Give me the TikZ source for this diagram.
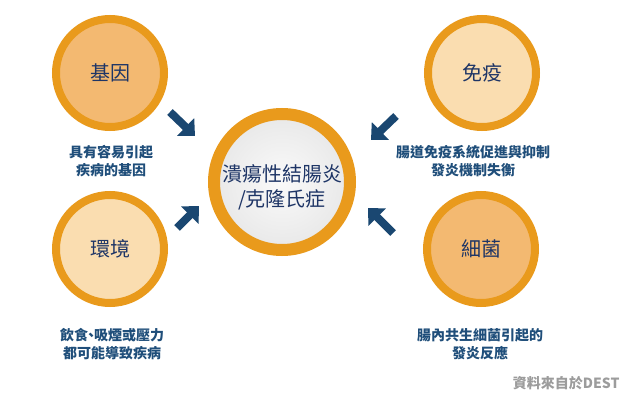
\documentclass[tikz,border=0pt]{standalone}
\usepackage{fontspec}
\setmainfont{Noto Sans CJK TC}
\usepackage{tikz}
\usetikzlibrary{arrows.meta}

\definecolor{ringorange}{HTML}{E99A1C}
\definecolor{peachdark}{HTML}{F3B971}
\definecolor{peachlight}{HTML}{FADDB0}
\definecolor{labelnavy}{HTML}{1E3566}
\definecolor{capblue}{HTML}{1F4E7A}
\definecolor{arrowblue}{HTML}{1A4771}
\definecolor{srcgray}{HTML}{9C9C9C}

\tikzset{
  factor/.style={circle, draw=ringorange, line width=8pt, minimum size=108pt, inner sep=0pt,
    text=labelnavy, font=\fontsize{20}{24}\selectfont},
  disease/.style={circle, draw=ringorange, line width=12pt, minimum size=136pt, inner sep=0pt,
    inner color=gray!4, outer color=gray!18},
  caption/.style={text=capblue, align=center, font=\fontsize{14}{18}\selectfont\bfseries},
  bigarrow/.style={draw=arrowblue, line width=8pt, -{Triangle[width=24pt,length=13pt]}}
}

\begin{document}
\begin{tikzpicture}[x=1pt,y=-1pt]
\useasboundingbox[fill=white] (0,0) rectangle (640,401);
% center
\node[disease] (ibd) at (282,182) {};
\node[text=labelnavy, align=center, font=\fontsize{20}{25}\selectfont] (ibdtxt) at (282,187) {潰瘍性結腸炎\\/克隆氏症};
% four factors
\node[factor, fill=peachdark] (gene) at (110,73) {基因};
\node[factor, fill=peachlight] (immune) at (482,73) {免疫};
\node[factor, fill=peachlight] (envir) at (110,249) {環境};
\node[factor, fill=peachdark] (germ) at (481,249) {細菌};
% captions
\node[caption] (genetxt) at (111,161) {具有容易引起\\疾病的基因};
\node[caption] (immunetxt) at (473,161) {腸道免疫系統促進與抑制\\發炎機制失衡};
\node[caption] (envirtxt) at (112,344) {飲食\hspace{-4pt}、\hspace{-4pt}吸煙或壓力\\都可能導致疾病};
\node[caption] (germtxt) at (480,344) {腸內共生細菌引起的\\發炎反應};
% arrows
\coordinate (a1) at (170,112); \coordinate (b1) at (195,136);
\coordinate (a2) at (396,116); \coordinate (b2) at (371,140);
\coordinate (a3) at (177,228); \coordinate (b3) at (199,206);
\coordinate (a4) at (393,233); \coordinate (b4) at (368,208);
\draw[bigarrow] (a1) -- (b1);
\draw[bigarrow] (a2) -- (b2);
\draw[bigarrow] (a3) -- (b3);
\draw[bigarrow] (a4) -- (b4);
% source
\node[anchor=east, text=srcgray, font=\fontsize{14}{16}\selectfont\bfseries] (src) at (623,383) {資料來自於DEST};
\end{tikzpicture}
\end{document}
